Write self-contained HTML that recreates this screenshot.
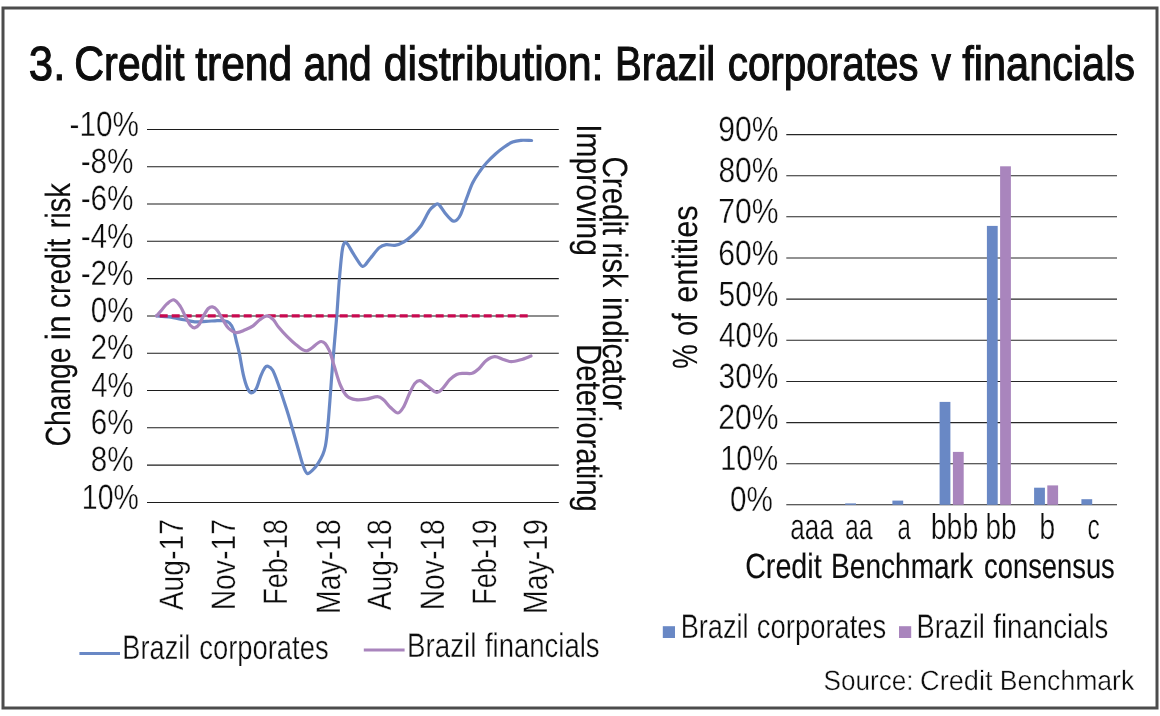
<!DOCTYPE html>
<html><head><meta charset="utf-8"><title>Credit trend and distribution</title>
<style>
html,body{margin:0;padding:0;background:#fff;}
svg{display:block;}
text{font-family:"Liberation Sans",sans-serif;font-kerning:none;text-rendering:geometricPrecision;fill:#0d0d0d;}
.R{stroke:#0d0d0d;stroke-width:0.15px;vector-effect:non-scaling-stroke;}

.RT{stroke:#0d0d0d;stroke-width:1.1px;vector-effect:non-scaling-stroke;}
.L{stroke:#fff;stroke-width:0.35px;vector-effect:non-scaling-stroke;}
</style></head><body>
<svg width="1160" height="716" viewBox="0 0 1160 716">
<rect x="0" y="0" width="1160" height="716" fill="#fff"/>
<rect x="3" y="8" width="1154" height="700" fill="none" stroke="#4c4c4c" stroke-width="3"/>
<line x1="147.0" x2="558.8" y1="129.4" y2="129.4" stroke="#1c1c1c" stroke-width="1.05"/>
<line x1="147.0" x2="558.8" y1="166.7" y2="166.7" stroke="#1c1c1c" stroke-width="1.05"/>
<line x1="147.0" x2="558.8" y1="204.0" y2="204.0" stroke="#1c1c1c" stroke-width="1.05"/>
<line x1="147.0" x2="558.8" y1="241.3" y2="241.3" stroke="#1c1c1c" stroke-width="1.05"/>
<line x1="147.0" x2="558.8" y1="278.6" y2="278.6" stroke="#1c1c1c" stroke-width="1.05"/>
<line x1="147.0" x2="558.8" y1="315.9" y2="315.9" stroke="#1c1c1c" stroke-width="1.05"/>
<line x1="147.0" x2="558.8" y1="353.2" y2="353.2" stroke="#1c1c1c" stroke-width="1.05"/>
<line x1="147.0" x2="558.8" y1="390.5" y2="390.5" stroke="#1c1c1c" stroke-width="1.05"/>
<line x1="147.0" x2="558.8" y1="427.8" y2="427.8" stroke="#1c1c1c" stroke-width="1.05"/>
<line x1="147.0" x2="558.8" y1="465.1" y2="465.1" stroke="#1c1c1c" stroke-width="1.05"/>
<line x1="147.0" x2="558.8" y1="502.4" y2="502.4" stroke="#1c1c1c" stroke-width="1.05"/>
<path d="M156.5,315.9C158.6,316.1 164.5,316.4 169.0,317.0C173.5,317.6 179.3,318.9 183.6,319.7C187.9,320.5 191.1,321.5 194.8,321.8C198.5,322.1 202.3,321.6 206.0,321.4C209.7,321.2 214.2,320.7 217.2,320.6C220.2,320.5 221.9,320.4 224.0,320.8C226.1,321.2 228.0,321.6 229.6,323.1C231.2,324.6 232.4,326.8 233.5,329.8C234.6,332.8 235.4,337.3 236.3,341.0C237.2,344.7 237.9,346.6 239.1,352.2C240.3,357.8 241.9,368.6 243.3,374.6C244.7,380.7 246.2,385.5 247.6,388.5C249.0,391.5 250.1,392.8 251.6,392.8C253.1,392.8 254.8,391.2 256.3,388.5C257.8,385.8 259.2,379.9 260.6,376.4C262.0,372.9 263.7,369.4 264.9,367.7C266.1,366.0 266.7,365.9 268.0,366.3C269.3,366.7 271.1,367.5 272.7,370.3C274.3,373.1 275.6,376.8 277.9,383.3C280.2,389.8 284.2,401.9 286.6,409.3C289.0,416.7 290.1,420.8 292.1,427.6C294.1,434.4 296.8,444.1 298.6,450.3C300.4,456.5 301.5,461.1 302.9,465.0C304.3,468.9 305.5,472.8 307.2,473.5C308.9,474.2 311.5,471.1 313.3,469.4C315.1,467.7 316.5,465.8 318.1,463.3C319.7,460.8 321.6,457.5 322.8,454.6C324.0,451.7 324.8,448.9 325.4,446.0C326.0,443.1 326.3,440.3 326.7,437.3C327.1,434.3 327.3,430.7 327.6,427.8C327.9,424.9 328.0,424.5 328.4,420.0C328.8,415.5 329.2,409.6 329.9,400.6C330.6,391.6 331.7,376.1 332.5,366.0C333.3,355.9 334.0,348.4 334.7,340.0C335.4,331.6 336.0,325.7 336.8,315.5C337.6,305.3 338.5,289.4 339.4,278.8C340.3,268.2 341.3,257.7 342.0,252.0C342.7,246.3 343.0,246.2 343.6,244.6C344.2,243.0 344.9,242.4 345.6,242.4C346.3,242.4 346.5,242.5 347.8,244.4C349.1,246.3 351.2,250.3 353.3,253.7C355.4,257.1 358.8,262.5 360.4,264.6C362.0,266.7 362.0,266.2 362.8,266.3C363.6,266.4 363.9,266.4 365.2,265.0C366.5,263.6 368.2,260.9 370.6,258.0C373.0,255.1 376.7,249.8 379.3,247.6C381.9,245.4 383.6,245.1 386.2,244.7C388.8,244.3 391.9,245.8 394.8,245.4C397.7,245.0 400.6,243.8 403.5,242.1C406.4,240.4 409.3,238.2 412.2,235.5C415.1,232.8 417.9,230.2 420.8,226.0C423.7,221.8 427.2,213.8 429.5,210.4C431.8,207.0 433.5,206.4 434.8,205.3C436.1,204.2 436.5,203.9 437.3,203.9C438.1,203.9 438.5,204.1 439.8,205.6C441.1,207.1 443.1,210.6 445.0,213.0C446.9,215.4 449.9,218.6 451.4,220.0C452.9,221.4 453.1,221.2 454.0,221.2C454.9,221.2 455.5,221.3 456.6,220.2C457.7,219.1 458.9,218.4 460.6,214.7C462.3,211.0 464.7,203.3 466.7,198.0C468.7,192.7 470.5,187.1 472.7,182.7C474.9,178.3 477.4,174.8 479.7,171.5C482.0,168.2 484.0,165.7 486.6,162.8C489.2,159.9 492.3,156.8 495.2,154.2C498.1,151.6 501.0,149.2 503.9,147.2C506.8,145.2 509.7,143.2 512.6,142.0C515.5,140.8 518.0,140.6 521.2,140.3C524.4,140.1 529.9,140.5 531.6,140.5" fill="none" stroke="#6988c5" stroke-width="3.2" stroke-linecap="round" stroke-linejoin="round"/>
<line x1="159.7" x2="527.7" y1="315.9" y2="315.9" stroke="#c80a50" stroke-width="3.4" stroke-dasharray="8 4"/>
<path d="M156.5,315.9C157.3,315.0 159.8,312.3 161.5,310.3C163.2,308.3 164.6,305.9 166.7,304.1C168.8,302.4 171.5,299.4 173.8,299.8C176.1,300.2 178.3,303.4 180.3,306.3C182.3,309.2 184.2,314.3 185.9,317.5C187.6,320.7 188.9,323.6 190.3,325.3C191.8,327.0 193.1,328.1 194.6,327.9C196.1,327.7 197.8,326.3 199.3,324.2C200.8,322.1 202.3,317.9 203.8,315.3C205.3,312.7 206.9,309.9 208.3,308.5C209.8,307.1 211.0,306.6 212.5,306.9C214.0,307.2 215.5,308.1 217.2,310.2C218.9,312.3 220.9,316.7 222.8,319.7C224.7,322.7 226.2,326.0 228.4,328.1C230.7,330.2 233.5,332.3 236.3,332.6C239.1,332.9 242.5,330.9 245.3,329.8C248.1,328.7 250.7,327.6 253.1,325.9C255.5,324.2 257.5,321.4 259.8,319.7C262.1,318.0 264.9,315.8 267.1,315.8C269.4,315.8 271.4,317.8 273.3,319.7C275.2,321.6 276.2,324.3 278.5,327.1C280.8,329.9 284.3,333.8 287.2,336.7C290.1,339.6 292.5,342.1 295.8,344.5C299.1,346.9 302.6,351.3 306.8,350.8C311.0,350.3 317.4,341.7 321.1,341.5C324.8,341.3 326.6,345.4 328.8,349.5C331.0,353.6 332.3,360.1 334.2,366.0C336.1,371.9 338.1,379.9 340.3,385.0C342.5,390.1 344.6,393.9 347.2,396.3C349.8,398.8 352.6,399.2 355.8,399.7C359.0,400.2 362.6,399.7 366.2,399.2C369.8,398.7 374.6,396.5 377.5,396.6C380.4,396.7 381.3,397.9 383.5,399.7C385.7,401.5 388.1,405.3 390.5,407.5C392.9,409.7 395.8,413.1 398.0,413.0C400.2,412.9 401.8,410.0 403.8,406.6C405.8,403.2 407.9,396.6 409.8,392.7C411.7,388.8 413.3,385.2 415.0,383.2C416.7,381.2 418.2,380.2 420.2,380.6C422.2,381.0 424.4,383.8 427.1,385.8C429.9,387.8 434.1,392.0 436.7,392.4C439.3,392.8 440.5,390.5 442.7,388.4C444.9,386.3 447.4,382.0 449.7,379.7C452.0,377.4 454.3,375.6 456.6,374.5C458.9,373.4 460.9,373.5 463.5,373.3C466.1,373.1 469.6,374.1 472.2,373.3C474.8,372.5 476.8,370.6 479.1,368.5C481.4,366.4 483.4,362.7 486.0,360.7C488.6,358.7 491.8,356.9 494.7,356.7C497.6,356.5 500.6,358.7 503.3,359.5C506.0,360.3 508.2,361.6 511.1,361.6C514.0,361.7 517.3,360.7 520.6,359.8C523.9,358.9 529.3,356.6 531.0,356.0" fill="none" stroke="#a985bd" stroke-width="3.2" stroke-linecap="round" stroke-linejoin="round"/>
<line x1="79.4" x2="120" y1="653.4" y2="653.4" stroke="#6988c5" stroke-width="3"/>
<line x1="363.8" x2="404.6" y1="650.1" y2="650.1" stroke="#a985bd" stroke-width="3"/>
<line x1="786.3" x2="1117.0" y1="134.6" y2="134.6" stroke="#262626" stroke-width="1.05"/>
<line x1="786.3" x2="1117.0" y1="175.7" y2="175.7" stroke="#262626" stroke-width="1.05"/>
<line x1="786.3" x2="1117.0" y1="216.8" y2="216.8" stroke="#262626" stroke-width="1.05"/>
<line x1="786.3" x2="1117.0" y1="258.0" y2="258.0" stroke="#262626" stroke-width="1.05"/>
<line x1="786.3" x2="1117.0" y1="299.1" y2="299.1" stroke="#262626" stroke-width="1.05"/>
<line x1="786.3" x2="1117.0" y1="340.3" y2="340.3" stroke="#262626" stroke-width="1.05"/>
<line x1="786.3" x2="1117.0" y1="381.4" y2="381.4" stroke="#262626" stroke-width="1.05"/>
<line x1="786.3" x2="1117.0" y1="422.6" y2="422.6" stroke="#262626" stroke-width="1.05"/>
<line x1="786.3" x2="1117.0" y1="463.7" y2="463.7" stroke="#262626" stroke-width="1.05"/>
<line x1="786.3" x2="1117.0" y1="504.8" y2="504.8" stroke="#262626" stroke-width="1.05"/>
<rect x="845.2" y="503.4" width="10.8" height="1.4" fill="#6988c5"/>
<rect x="892.4" y="500.6" width="10.8" height="4.2" fill="#6988c5"/>
<rect x="939.6" y="401.9" width="10.8" height="102.9" fill="#6988c5"/>
<rect x="952.9" y="451.9" width="10.8" height="52.9" fill="#a985bd"/>
<rect x="986.9" y="225.9" width="10.8" height="278.9" fill="#6988c5"/>
<rect x="1000.1" y="166.3" width="10.8" height="338.5" fill="#a985bd"/>
<rect x="1034.1" y="487.7" width="10.8" height="17.1" fill="#6988c5"/>
<rect x="1047.3" y="485.4" width="10.8" height="19.4" fill="#a985bd"/>
<rect x="1081.4" y="499.2" width="10.8" height="5.6" fill="#6988c5"/>
<rect x="662.8" y="626.2" width="12.2" height="11.8" fill="#6988c5"/>
<rect x="899" y="626.2" width="12.2" height="11.8" fill="#a985bd"/>
<g opacity="0.999">
<text class="RT" font-size="48" transform="translate(28.84,79.60) scale(0.9107,1)">3.</text>
<text class="RT" font-size="48" transform="translate(74.20,79.60) scale(0.8607,1)">Credit</text>
<text class="RT" font-size="48" transform="translate(195.16,79.60) scale(0.8865,1)">trend</text>
<text class="RT" font-size="48" transform="translate(303.56,79.60) scale(0.8525,1)">and</text>
<text class="RT" font-size="48" transform="translate(383.69,79.60) scale(0.8956,1)">distribution:</text>
<text class="RT" font-size="48" transform="translate(614.91,79.60) scale(0.8363,1)">Brazil</text>
<text class="RT" font-size="48" transform="translate(727.68,79.60) scale(0.8417,1)">corporates</text>
<text class="RT" font-size="48" transform="translate(931.47,79.60) scale(0.8069,1)">v</text>
<text class="RT" font-size="48" transform="translate(962.31,79.60) scale(0.8634,1)">financials</text>
<text class="L" font-size="35" transform="translate(69.48,135.70) scale(0.8504,1)">-10%</text>
<text class="L" font-size="35" transform="translate(80.68,172.90) scale(0.8496,1)">-8%</text>
<text class="L" font-size="35" transform="translate(80.68,210.20) scale(0.8496,1)">-6%</text>
<text class="L" font-size="35" transform="translate(80.68,247.50) scale(0.8496,1)">-4%</text>
<text class="L" font-size="35" transform="translate(80.68,284.80) scale(0.8496,1)">-2%</text>
<text class="L" font-size="35" transform="translate(90.85,322.10) scale(0.8443,1)">0%</text>
<text class="L" font-size="35" transform="translate(90.50,359.40) scale(0.8512,1)">2%</text>
<text class="L" font-size="35" transform="translate(91.33,396.70) scale(0.8344,1)">4%</text>
<text class="L" font-size="35" transform="translate(90.80,434.20) scale(0.8452,1)">6%</text>
<text class="L" font-size="35" transform="translate(90.71,471.30) scale(0.8470,1)">8%</text>
<text class="L" font-size="35" transform="translate(81.83,508.60) scale(0.8135,1)">10%</text>
<text class="L" font-size="34" transform="translate(183.30,610.26) rotate(-90) scale(0.8316,1)">Aug-17</text>
<text class="L" font-size="34" transform="translate(235.00,610.32) rotate(-90) scale(0.8325,1)">Nov-17</text>
<text class="L" font-size="34" transform="translate(287.20,604.81) rotate(-90) scale(0.7935,1)">Feb-18</text>
<text class="L" font-size="34" transform="translate(339.50,614.03) rotate(-90) scale(0.8359,1)">May-18</text>
<text class="L" font-size="34" transform="translate(391.30,610.26) rotate(-90) scale(0.8298,1)">Aug-18</text>
<text class="L" font-size="34" transform="translate(443.50,610.32) rotate(-90) scale(0.8307,1)">Nov-18</text>
<text class="L" font-size="34" transform="translate(495.80,604.82) rotate(-90) scale(0.7946,1)">Feb-19</text>
<text class="L" font-size="34" transform="translate(547.40,614.03) rotate(-90) scale(0.8369,1)">May-19</text>
<text class="R" font-size="35" transform="translate(70.20,446.44) rotate(-90) scale(0.8074,1)">Change</text>
<text class="R" font-size="35" transform="translate(70.20,340.13) rotate(-90) scale(0.9104,1)">in</text>
<text class="R" font-size="35" transform="translate(70.20,308.00) rotate(-90) scale(0.8063,1)">credit</text>
<text class="R" font-size="35" transform="translate(70.20,228.54) rotate(-90) scale(0.8359,1)">risk</text>
<text class="R" font-size="35" transform="translate(577.30,124.23) rotate(90) scale(0.8570,1)">Improving</text>
<text class="R" font-size="35" transform="translate(603.40,156.50) rotate(90) scale(0.8431,1)">Credit</text>
<text class="R" font-size="35" transform="translate(603.40,242.48) rotate(90) scale(0.8244,1)">risk</text>
<text class="R" font-size="35" transform="translate(603.40,297.00) rotate(90) scale(0.8541,1)">indicator</text>
<text class="R" font-size="35" transform="translate(577.30,344.10) rotate(90) scale(0.8374,1)">Deteriorating</text>
<text class="L" font-size="34" transform="translate(122.37,659.10) scale(0.7992,1)">Brazil</text>
<text class="L" font-size="34" transform="translate(199.24,659.10) scale(0.8052,1)">corporates</text>
<text class="L" font-size="34" transform="translate(407.03,656.50) scale(0.8155,1)">Brazil</text>
<text class="L" font-size="34" transform="translate(484.91,656.50) scale(0.8091,1)">financials</text>
<text class="L" font-size="35" transform="translate(718.29,141.20) scale(0.8591,1)">90%</text>
<text class="L" font-size="35" transform="translate(718.40,182.30) scale(0.8576,1)">80%</text>
<text class="L" font-size="35" transform="translate(718.15,223.40) scale(0.8611,1)">70%</text>
<text class="L" font-size="35" transform="translate(718.17,264.50) scale(0.8609,1)">60%</text>
<text class="L" font-size="35" transform="translate(718.50,305.60) scale(0.8561,1)">50%</text>
<text class="L" font-size="35" transform="translate(719.02,346.70) scale(0.8485,1)">40%</text>
<text class="L" font-size="35" transform="translate(718.56,387.80) scale(0.8552,1)">30%</text>
<text class="L" font-size="35" transform="translate(718.19,428.90) scale(0.8606,1)">20%</text>
<text class="L" font-size="35" transform="translate(720.30,469.80) scale(0.8256,1)">10%</text>
<text class="L" font-size="35" transform="translate(730.04,511.00) scale(0.8484,1)">0%</text>
<text class="R" font-size="35" transform="translate(697.20,368.78) rotate(-90) scale(0.7860,1)">%</text>
<text class="R" font-size="35" transform="translate(697.20,335.72) rotate(-90) scale(0.7634,1)">of</text>
<text class="R" font-size="35" transform="translate(697.20,302.81) rotate(-90) scale(0.8785,1)">entities</text>
<text class="L" font-size="36" transform="translate(790.29,539.30) scale(0.7226,1)">aaa</text>
<text class="L" font-size="36" transform="translate(844.94,539.30) scale(0.6907,1)">aa</text>
<text class="L" font-size="36" transform="translate(897.48,539.30) scale(0.6651,1)">a</text>
<text class="L" font-size="36" transform="translate(930.76,539.30) scale(0.7914,1)">bbb</text>
<text class="L" font-size="36" transform="translate(985.50,539.30) scale(0.7760,1)">bb</text>
<text class="L" font-size="36" transform="translate(1039.35,539.30) scale(0.7968,1)">b</text>
<text class="L" font-size="36" transform="translate(1087.46,539.30) scale(0.6829,1)">c</text>
<text class="R" font-size="35" transform="translate(745.14,577.90) scale(0.8190,1)">Credit</text>
<text class="R" font-size="35" transform="translate(831.10,577.90) scale(0.8020,1)">Benchmark</text>
<text class="R" font-size="35" transform="translate(984.04,577.90) scale(0.7814,1)">consensus</text>
<text class="L" font-size="34" transform="translate(680.67,637.50) scale(0.7992,1)">Brazil</text>
<text class="L" font-size="34" transform="translate(756.84,637.50) scale(0.8059,1)">corporates</text>
<text class="L" font-size="34" transform="translate(916.56,637.50) scale(0.8030,1)">Brazil</text>
<text class="L" font-size="34" transform="translate(993.21,637.50) scale(0.8127,1)">financials</text>
<text class="L" font-size="28" transform="translate(823.51,689.60) scale(0.9324,1)">Source:</text>
<text class="L" font-size="28" transform="translate(920.02,689.60) scale(0.9704,1)">Credit</text>
<text class="L" font-size="28" transform="translate(999.82,689.60) scale(0.9494,1)">Benchmark</text>
</g>
</svg>
</body></html>
